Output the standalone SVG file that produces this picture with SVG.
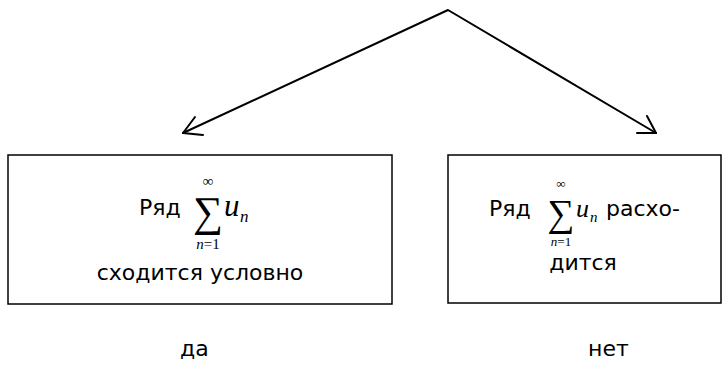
<svg xmlns="http://www.w3.org/2000/svg" width="723" height="374" viewBox="0 0 723 374">
<style>
.box{fill:#fff;stroke:#000;stroke-width:1.5}
.t{font-family:"DejaVu Sans",Verdana,sans-serif;font-size:22px;fill:#000}
.m{font-family:"Liberation Serif","Times New Roman",serif;fill:#000}
.c{fill:none;stroke:#000;stroke-width:2;stroke-linecap:round;stroke-linejoin:round}
</style>
<rect width="723" height="374" fill="#fff"/>
<g id="connectors">
<polyline class="c" points="183,133 448,10 656,133"/>
<polyline class="c" points="195,117 183,133 203,135"/>
<polyline class="c" points="647,116 656,133 637,133"/>
</g>
<g id="node-left">
<rect class="box" x="8" y="155" width="384" height="149"/>
<text class="t" x="139" y="215">Ряд</text>
<text class="m" x="208" y="226" font-size="42" text-anchor="middle">∑</text>
<text class="m" x="208" y="186" font-size="15" text-anchor="middle">∞</text>
<text class="m" x="208" y="249" font-size="15" text-anchor="middle" font-style="italic">n<tspan font-style="normal">=1</tspan></text>
<text class="m" x="224" y="216" font-size="31" font-style="italic">u</text>
<text class="m" x="240" y="222" font-size="17" font-style="italic">n</text>
<text class="t" x="200" y="280" text-anchor="middle">сходится условно</text>
</g>
<g id="node-right">
<rect class="box" x="448" y="155" width="273" height="148"/>
<text class="t" x="489" y="216">Ряд</text>
<text class="m" x="561" y="226" font-size="38" text-anchor="middle">∑</text>
<text class="m" x="561" y="188" font-size="13" text-anchor="middle">∞</text>
<text class="m" x="561" y="246" font-size="13" text-anchor="middle" font-style="italic">n<tspan font-style="normal">=1</tspan></text>
<text class="m" x="576" y="217" font-size="26" font-style="italic">u</text>
<text class="m" x="590" y="222" font-size="15" font-style="italic">n</text>
<text class="t" x="606" y="216">расхо-</text>
<text class="t" x="583" y="270" text-anchor="middle">дится</text>
</g>
<g id="label-yes"><text class="t" x="180" y="356">да</text></g>
<g id="label-no"><text class="t" x="588" y="356">нет</text></g>
</svg>
